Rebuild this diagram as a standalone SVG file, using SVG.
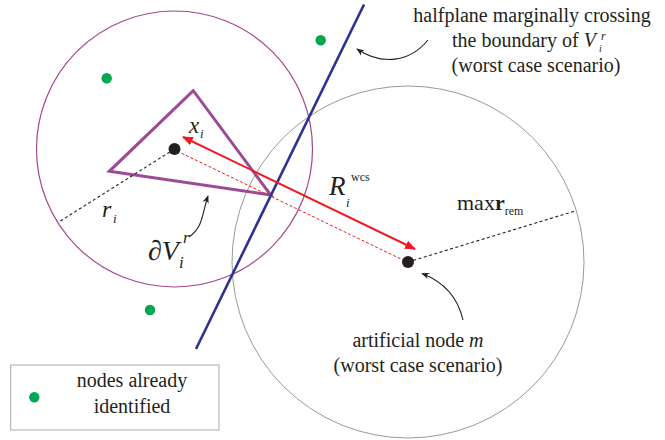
<svg xmlns="http://www.w3.org/2000/svg" width="665" height="440" viewBox="0 0 665 440" font-family="Liberation Serif, DejaVu Serif, serif">
<defs>
<style>
.t{font-family:'Liberation Serif','DejaVu Serif',serif;fill:#231f20}
.it{font-style:italic}
.green{fill:#00a651}
.node{fill:#231f20}
.blk{fill:none;stroke:#231f20;stroke-width:1.1;stroke-dasharray:3,2.5}
.curve{fill:none;stroke:#231f20;stroke-width:1.1}
</style>
<marker id="ah" viewBox="0 0 10 10" refX="9" refY="5" markerWidth="8" markerHeight="8" markerUnits="userSpaceOnUse" orient="auto-start-reverse">
<path d="M0,1 L10,5 L0,9 L3,5 Z" fill="#231f20"/>
</marker>
<marker id="rh" viewBox="0 0 10 10" refX="9" refY="5" markerWidth="11" markerHeight="11" markerUnits="userSpaceOnUse" orient="auto-start-reverse">
<path d="M0,1 L10,5 L0,9 Z" fill="#ed1c24"/>
</marker>
</defs>
<rect width="665" height="440" fill="#fff"/>
<g id="circle-i"><circle cx="174.5" cy="149" r="138" fill="none" stroke="#a3478f" stroke-width="1.2"/></g>
<g id="circle-m"><circle cx="408" cy="262" r="176" fill="none" stroke="#999" stroke-width="1"/></g>
<g id="cell"><polygon points="193.3,90.7 109.3,171.3 270.7,195" fill="none" stroke="#9b4a96" stroke-width="3" stroke-linejoin="miter"/></g>
<g id="halfplane"><line x1="364" y1="4.5" x2="196" y2="349" stroke="#2e3192" stroke-width="2.6"/></g>
<g id="connectors">
<line class="blk" x1="174.5" y1="149" x2="59.3" y2="221.7"/>
<line class="blk" x1="408" y1="262" x2="576" y2="210.7"/>
<line x1="177" y1="151" x2="405" y2="261" stroke="#ed1c24" stroke-width="1" stroke-dasharray="3,2"/>
<line x1="183" y1="137" x2="415" y2="249" stroke="#ed1c24" stroke-width="2" marker-start="url(#rh)" marker-end="url(#rh)"/>
<path class="curve" d="M189,237 C204,226 202,213 208,196" marker-end="url(#ah)"/>
<path class="curve" d="M463,320 C458,298 444,282 422,273.5" marker-end="url(#ah)"/>
<path class="curve" d="M428,40 C410,62 382,66 357,49" marker-end="url(#ah)"/>
</g>
<g id="node-xi"><circle class="node" cx="174.5" cy="149" r="6"/>
<text class="t it" x="189" y="133" font-size="23">x</text>
<text class="t it" x="200" y="138" font-size="13">i</text></g>
<g id="node-m"><circle class="node" cx="408" cy="262" r="6"/></g>
<g id="green-nodes">
<circle class="green" cx="106.7" cy="78.3" r="5.2"/>
<circle class="green" cx="320.7" cy="40.3" r="5.2"/>
<circle class="green" cx="150" cy="310" r="5.2"/>
</g>
<g id="labels">
<text class="t it" x="102" y="217" font-size="24">r</text>
<text class="t it" x="113" y="223" font-size="13">i</text>
<text class="t it" x="148" y="260" font-size="28">∂V</text>
<text class="t it" x="179" y="268" font-size="17">i</text>
<text class="t it" x="183" y="243" font-size="17">r</text>
<text class="t it" x="329" y="195" font-size="27">R</text>
<text class="t it" x="346" y="207" font-size="13">i</text>
<text class="t" x="351" y="181" font-size="12">wcs</text>
<text class="t" x="457" y="210" font-size="22">max<tspan font-weight="bold">r</tspan><tspan font-size="12" dy="5">rem</tspan></text>
<text class="t" x="532" y="22" font-size="20" text-anchor="middle">halfplane marginally crossing</text>
<text class="t" x="452" y="47" font-size="20">the boundary of <tspan class="it">V</tspan></text>
<text class="t it" x="601" y="40" font-size="12">r</text>
<text class="t it" x="599" y="52" font-size="10">i</text>
<text class="t" x="536" y="72" font-size="20" text-anchor="middle">(worst case scenario)</text>
<text class="t" x="418" y="347" font-size="20" text-anchor="middle">artificial node <tspan class="it">m</tspan></text>
<text class="t" x="418" y="372" font-size="20" text-anchor="middle">(worst case scenario)</text>
</g>
<g id="legend">
<rect x="10.7" y="365" width="208.3" height="65" fill="none" stroke="#aaa" stroke-width="1"/>
<circle class="green" cx="34.3" cy="397.3" r="5.2"/>
<text class="t" x="132" y="387" font-size="20" text-anchor="middle">nodes already</text>
<text class="t" x="132" y="413" font-size="20" text-anchor="middle">identified</text>
</g>
</svg>
